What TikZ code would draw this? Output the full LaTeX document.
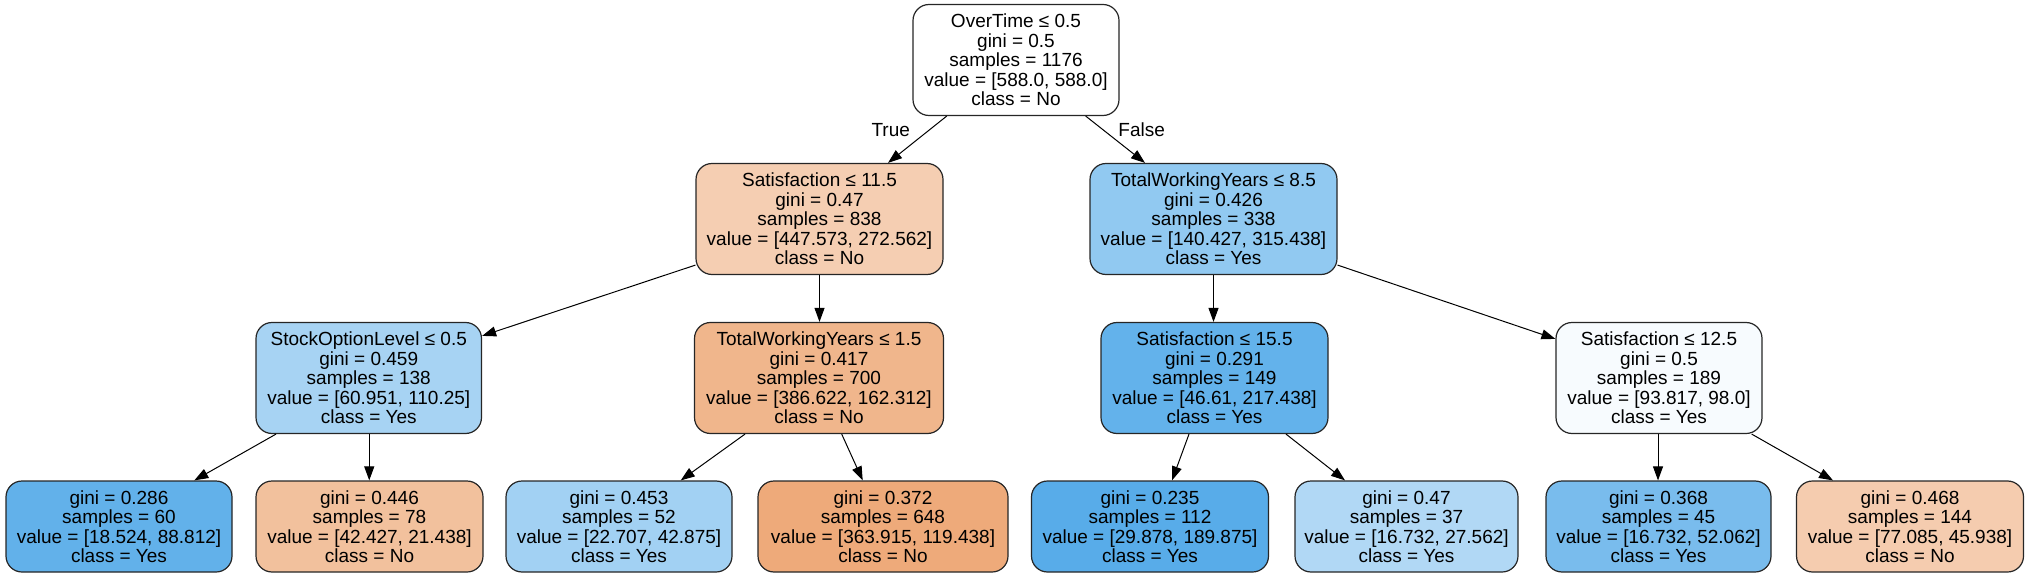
\documentclass[tikz,border=0pt]{standalone}
\usepackage{fontspec}
\setmainfont{Liberation Sans}
\usetikzlibrary{calc,arrows.meta}
\definecolor{cRoot}{RGB}{255,255,255}
\definecolor{cSatA}{RGB}{245,206,178}
\definecolor{cTwyA}{RGB}{145,201,241}
\definecolor{cSol}{RGB}{167,211,243}
\definecolor{cTwyB}{RGB}{240,182,140}
\definecolor{cSatB}{RGB}{99,178,235}
\definecolor{cSatC}{RGB}{247,251,254}
\definecolor{cLa}{RGB}{98,177,234}
\definecolor{cLb}{RGB}{242,193,157}
\definecolor{cLc}{RGB}{162,209,243}
\definecolor{cLd}{RGB}{238,170,122}
\definecolor{cLe}{RGB}{88,172,233}
\definecolor{cLf}{RGB}{177,216,245}
\definecolor{cLg}{RGB}{121,188,237}
\definecolor{cLh}{RGB}{245,204,175}
\begin{document}
\begin{tikzpicture}[x=0.5pt,y=-0.5pt,
  tfont/.style={font=\fontsize{9.5pt}{9.75pt}\selectfont},
  tbox/.style={tfont, draw=black!85, line width=0.6pt, rounded corners=8pt,
    inner sep=0pt, align=center, minimum height=55.5pt},
  leafbox/.style={tbox, minimum height=45.5pt},
  edge/.style={draw=black, line width=0.5pt, -{Triangle[length=7pt,width=5pt]}},
  elabel/.style={tfont, inner sep=0pt}]
\useasboundingbox (0,0) rectangle (2028,577);

\node[tbox, fill=cRoot, minimum width=103pt] (root) at (1016,60)
  {OverTime ≤ 0.5\\gini = 0.5\\samples = 1176\\value = [588.0, 588.0]\\class = No};

\node[tbox, fill=cSatA, minimum width=123.5pt] (sat1) at (819.5,219)
  {Satisfaction ≤ 11.5\\gini = 0.47\\samples = 838\\value = [447.573, 272.562]\\class = No};
\node[tbox, fill=cTwyA, minimum width=123.5pt] (twy1) at (1213.5,219)
  {TotalWorkingYears ≤ 8.5\\gini = 0.426\\samples = 338\\value = [140.427, 315.438]\\class = Yes};

\node[tbox, fill=cSol, minimum width=112.75pt] (sol) at (368.75,378)
  {StockOptionLevel ≤ 0.5\\gini = 0.459\\samples = 138\\value = [60.951, 110.25]\\class = Yes};
\node[tbox, fill=cTwyB, minimum width=124.5pt] (twy2) at (819,378)
  {TotalWorkingYears ≤ 1.5\\gini = 0.417\\samples = 700\\value = [386.622, 162.312]\\class = No};
\node[tbox, fill=cSatB, minimum width=113.5pt] (sat2) at (1214.5,378)
  {Satisfaction ≤ 15.5\\gini = 0.291\\samples = 149\\value = [46.61, 217.438]\\class = Yes};
\node[tbox, fill=cSatC, minimum width=103pt] (sat3) at (1659,378)
  {Satisfaction ≤ 12.5\\gini = 0.5\\samples = 189\\value = [93.817, 98.0]\\class = Yes};

\node[leafbox, fill=cLa, minimum width=113pt] (l1) at (119,526.5)
  {gini = 0.286\\samples = 60\\value = [18.524, 88.812]\\class = Yes};
\node[leafbox, fill=cLb, minimum width=113.5pt] (l2) at (369.5,526.5)
  {gini = 0.446\\samples = 78\\value = [42.427, 21.438]\\class = No};
\node[leafbox, fill=cLc, minimum width=113pt] (l3) at (619,526.5)
  {gini = 0.453\\samples = 52\\value = [22.707, 42.875]\\class = Yes};
\node[leafbox, fill=cLd, minimum width=125pt] (l4) at (883,526.5)
  {gini = 0.372\\samples = 648\\value = [363.915, 119.438]\\class = No};
\node[leafbox, fill=cLe, minimum width=118.5pt] (l5) at (1150,526.5)
  {gini = 0.235\\samples = 112\\value = [29.878, 189.875]\\class = Yes};
\node[leafbox, fill=cLf, minimum width=111.5pt] (l6) at (1406.5,526.5)
  {gini = 0.47\\samples = 37\\value = [16.732, 27.562]\\class = Yes};
\node[leafbox, fill=cLg, minimum width=112.5pt] (l7) at (1658.5,526.5)
  {gini = 0.368\\samples = 45\\value = [16.732, 52.062]\\class = Yes};
\node[leafbox, fill=cLh, minimum width=113.5pt] (l8) at (1910,526.5)
  {gini = 0.468\\samples = 144\\value = [77.085, 45.938]\\class = No};

% edges
\draw[edge] ($(root.south)+(-69.3,0)$) -- ($(sat1.north)+(68.5,0)$);
\draw[edge] ($(root.south)+(69.7,0)$) -- ($(twy1.north)+(-68.5,0)$);
\node[elabel] (ltrue) at (890.7,130) {True};
\node[elabel] (lfalse) at (1141.7,130) {False};

\draw[edge] ($(sat1.south west)+(0,-10)$) -- ($(sol.north east)+(0,14)$);
\draw[edge] (sat1.south) -- (sat1.south |- twy2.north);
\draw[edge] (twy1.south) -- (twy1.south |- sat2.north);
\draw[edge] ($(twy1.south east)+(0,-10)$) -- ($(sat3.north west)+(0,17)$);

\draw[edge] ($(sol.south)+(-92.75,0)$) -- ($(l1.north)+(75.3,0)$);
\draw[edge] ($(sol.south)+(0.5,0)$) -- ($(l2.north)+(-0.25,0)$);
\draw[edge] ($(twy2.south)+(-74,0)$) -- ($(l3.north)+(61.7,0)$);
\draw[edge] ($(twy2.south)+(22.7,0)$) -- ($(l4.north)+(-20.3,0)$);
\draw[edge] ($(sat2.south)+(-25.5,0)$) -- ($(l5.north)+(22,0)$);
\draw[edge] ($(sat2.south)+(71.5,0)$) -- ($(l6.north)+(-61.5,0)$);
\draw[edge] ($(sat3.south)+(-1,0)$) -- ($(l7.north)+(-0.5,0)$);
\draw[edge] ($(sat3.south)+(92.7,0)$) -- ($(l8.north)+(-77,0)$);
\end{tikzpicture}
\end{document}
